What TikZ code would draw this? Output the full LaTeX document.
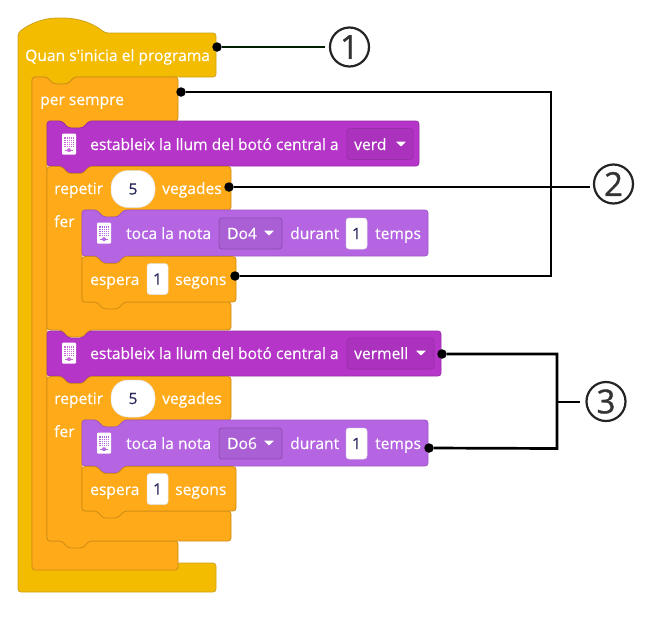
\documentclass[tikz,border=0pt]{standalone}
\usepackage{fontspec}
\newfontfamily\uifont[FakeBold=0.3]{Open Sans}
\newfontfamily\calloutfont[FakeBold=1]{Open Sans}
\definecolor{yel}{HTML}{F4BC00}
\definecolor{yelb}{HTML}{CCA21F}
\definecolor{org}{HTML}{FFAB19}
\definecolor{orgb}{HTML}{CF8B17}
\definecolor{pur}{HTML}{B535C8}
\definecolor{purb}{HTML}{9A2EAB}
\definecolor{lil}{HTML}{B565E2}
\definecolor{lilb}{HTML}{9F55C8}
\definecolor{ink}{HTML}{333333}
\tikzset{
 yelblock/.style={fill=yel,draw=yelb,line width=.8pt,rounded corners=3pt},
 orgblock/.style={fill=org,draw=orgb,line width=.8pt,rounded corners=3pt},
 purblock/.style={fill=pur,draw=purb,line width=.8pt,rounded corners=3pt},
 lilblock/.style={fill=lil,draw=lilb,line width=.8pt,rounded corners=3pt},
 lbl/.style={text=white,font=\uifont\fontsize{15.6}{17}\selectfont,inner sep=0pt,anchor=base west,yshift=-1pt},
 numfield/.style={fill=white,draw=black!12,line width=.5pt,rounded corners=3pt,minimum width=21pt,minimum height=31pt,inner sep=0pt,text=ink!80!blue,font=\uifont\fontsize{15.6}{17}\selectfont},
 ovalfield/.style={fill=white,draw=black!12,line width=.5pt,rounded corners=17pt,minimum width=44pt,minimum height=37pt,inner sep=0pt,text=ink!80!blue,font=\uifont\fontsize{15.6}{17}\selectfont},
 purdrop/.style={fill=pur!94!black,draw=purb,line width=.8pt,rounded corners=3pt,minimum height=31pt,inner sep=0pt},
 lildrop/.style={fill=lil!94!black,draw=lilb!90!black,line width=.8pt,rounded corners=3pt,minimum height=31pt,inner sep=0pt},
 dot/.style={circle,fill=black,inner sep=0pt,minimum size=9.5pt},
 wire/.style={draw=black,line width=2.2pt},
 wirethick/.style={draw=black,line width=2.7pt,line join=miter},
 callout/.style={circle,draw=ink!70!black,line width=2.2pt,minimum size=39pt,inner sep=0pt,text=ink,font=\calloutfont\fontsize{33}{35}\selectfont},
}
% stack block: style, x1, y1, x2, y2
\newcommand\stackblock[5]{\draw[#1] (#2+8,#3) -- (#2+15,#3) -- (#2+21,#3+7) -- (#2+36,#3+7) -- (#2+42,#3) -- (#4,#3) -- (#4,#5) -- (#2+42,#5) -- (#2+36,#5+7) -- (#2+21,#5+7) -- (#2+15,#5) -- (#2,#5) -- (#2,#3) -- cycle;}
% C block: style, x1, y1, x2, y2 (top bar), inner x, y3 (lower bar top), x4 (lower bar right), y4 (bottom)
\newcommand\cblock[9]{\draw[#1] (#2+8,#3) -- (#2+15,#3) -- (#2+21,#3+7) -- (#2+36,#3+7) -- (#2+42,#3) -- (#4,#3) -- (#4,#5) -- (#6+42,#5) -- (#6+36,#5+7) -- (#6+21,#5+7) -- (#6+15,#5) -- (#6,#5) -- (#6,#7) -- (#8,#7) -- (#8,#9) -- (#2+42,#9) -- (#2+36,#9+7) -- (#2+21,#9+7) -- (#2+15,#9) -- (#2,#9) -- (#2,#3) -- cycle;}
% device icon: x centre, y centre, grid colour
\newcommand\deviceicon[3]{%
 \fill[white,rounded corners=1pt] (#1-7,#2-10.5) rectangle (#1+7,#2+10.5);
 \fill[#3] (#1-5,#2-7) rectangle (#1+5,#2+3);
 \foreach \gx in {-3,-1,1,3} \draw[white,line width=.2pt] (#1+\gx,#2-7) -- (#1+\gx,#2+3);
 \foreach \gy in {-5,-3,-1,1} \draw[white,line width=.2pt] (#1-5,#2+\gy) -- (#1+5,#2+\gy);
 \fill[#3] (#1-4,#2+5.5) rectangle (#1+4,#2+7);
 \fill[#3] (#1,#2+6.2) circle (2);
}
\newcommand\droparrow[2]{\fill[white,rounded corners=.5pt] (#1-5,#2-2.5) -- (#1+5,#2-2.5) -- (#1,#2+2.5) -- cycle;}
\begin{document}
\begin{tikzpicture}[x=1pt,y=-1pt]
\useasboundingbox (0,0) rectangle (649,619);
% hat
\draw[yelblock] (18,33) .. controls (30,23) and (45,18) .. (60,18) .. controls (78,18) and (93,23) .. (105,33) -- (216,33) -- (216,77) -- (74,77) -- (68,84) -- (53,84) -- (47,77) -- (32,77) -- (32,563) -- (216,563) -- (216,592) -- (18,592) -- cycle;
% forever
\draw[orgblock] (40,77) -- (47,77) -- (53,84) -- (68,84) -- (74,77) -- (178,77) -- (178,121) -- (89,121) -- (83,128) -- (68,128) -- (62,121) -- (47,121) -- (47,541) -- (178,541) -- (178,570) -- (32,570) -- (32,77) -- cycle;
% first group
\stackblock{purblock}{47}{121}{419}{166}
\cblock{orgblock}{47}{166.5}{231}{210}{82}{302}{231}{330}
\stackblock{lilblock}{82}{210}{428}{256}
\stackblock{orgblock}{82}{256.5}{236}{302}
% second group
\stackblock{purblock}{47}{331}{441}{376}
\cblock{orgblock}{47}{376.5}{231}{420}{82}{511}{231}{541}
\stackblock{lilblock}{82}{420}{428}{466}
\stackblock{orgblock}{82}{466.5}{236}{511}
% icons
\deviceicon{69}{144}{pur!75!white}
\deviceicon{69}{353}{pur!75!white}
\deviceicon{104}{233}{lil}
\deviceicon{104}{443}{lil}
% labels
\node[lbl] (t1) at (25,60) {Quan s'inicia el programa};
\node[lbl] (t2) at (40,104) {per sempre};
\node[lbl] (t3) at (90,149) {estableix la llum del botó central a};
\node[purdrop,minimum width=66pt] (f3) at (380,144) {};
\node[lbl] (t3v) at (354,149) {verd};
\droparrow{401}{144}
\node[lbl] (t4) at (54,193) {repetir};
\node[ovalfield] (f4) at (133,189) {5};
\node[lbl] (t4b) at (162,193) {vegades};
\node[lbl] (t5) at (54,226) {fer};
\node[lbl] (t6) at (126,238) {toca la nota};
\node[lildrop,minimum width=63pt] (f6) at (250.5,233.5) {};
\node[lbl] (t6v) at (227,238) {Do4};
\droparrow{269}{233}
\node[lbl] (t6b) at (290,238) {durant};
\node[numfield] (f6n) at (356.5,233.5) {1};
\node[lbl] (t6c) at (375,238) {temps};
\node[lbl] (t7) at (90,284) {espera};
\node[numfield] (f7) at (157.5,279) {1};
\node[lbl] (t7b) at (175,284) {segons};
\node[lbl] (t8) at (90,358) {estableix la llum del botó central a};
\node[purdrop,minimum width=87pt] (f8) at (390.5,353.5) {};
\node[lbl] (t8v) at (354,358) {vermell};
\droparrow{421}{353}
\node[lbl] (t9) at (54,403) {repetir};
\node[ovalfield] (f9) at (133,398.5) {5};
\node[lbl] (t9b) at (162,403) {vegades};
\node[lbl] (t10) at (54,436) {fer};
\node[lbl] (t11) at (126,448) {toca la nota};
\node[lildrop,minimum width=63pt] (f11) at (250.5,443.5) {};
\node[lbl] (t11v) at (227,448) {Do6};
\droparrow{269}{443}
\node[lbl] (t11b) at (290,448) {durant};
\node[numfield] (f11n) at (356.5,443.5) {1};
\node[lbl] (t11c) at (375,448) {temps};
\node[lbl] (t12) at (90,494) {espera};
\node[numfield] (f12) at (157.5,489) {1};
\node[lbl] (t12b) at (175,494) {segons};
% callouts
\node[callout] (c1) at (349.5,47) {1};
\node[callout] (c2) at (613.5,184) {2};
\node[callout] (c3) at (606,401.5) {3};
% dots
\node[dot] (d1) at (217,47) {};
\node[dot] (d2a) at (181,92) {};
\node[dot] (d2b) at (229,187) {};
\node[dot] (d2c) at (235,276) {};
\node[dot] (d3a) at (442,354) {};
\node[dot] (d3b) at (429,448) {};
% junctions and free ends
\coordinate (e1) at (325,47);
\coordinate (j2a) at (551,92);
\coordinate (j2b) at (551,276);
\coordinate (e2) at (590,187);
\coordinate (j3a) at (557,354);
\coordinate (j3b) at (557,448.5);
\coordinate (j3c) at (557,402);
\coordinate (e3) at (580,402);
% wires
\draw[wire,draw=black!70!green!40!black] (d1) -- (e1);
\draw[wire,line join=miter] (d2a) -- (j2a) -- (j2b) -- (d2c);
\draw[wire] (d2b) -- (e2);
\draw[wirethick] (d3a) -- (j3a) -- (j3b) -- (d3b);
\draw[wirethick] (j3c) -- (e3);
\end{tikzpicture}
\end{document}
